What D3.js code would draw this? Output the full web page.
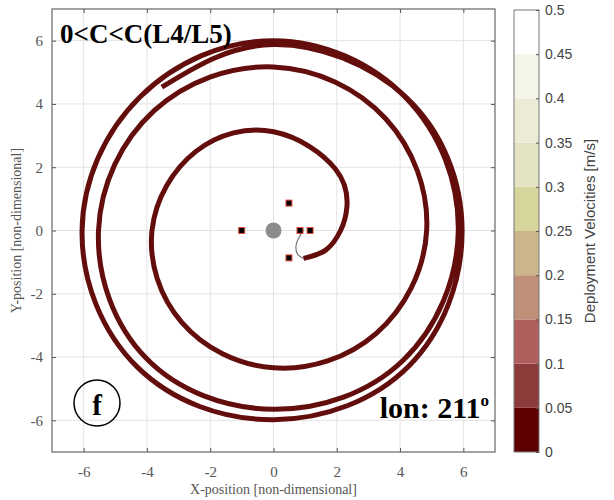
<!DOCTYPE html>
<html>
<head>
<meta charset="utf-8">
<script src="https://cdn.jsdelivr.net/npm/d3@7"></script>
<style>
  body { margin: 0; background: #fff; }
  svg { display: block; }
</style>
</head>
<body>
<div id="chart"></div>
<script>
/// DATA ///
const tickVals = [-6, -4, -2, 0, 2, 4, 6];

// velocity bins of the colorbar [m/s]
const velBins = [0, 0.05, 0.1, 0.15, 0.2, 0.25, 0.3, 0.35, 0.4, 0.45, 0.5];
const velColors = ["#5c0000", "#8e3b3b", "#b05f5f", "#c08f77", "#cbb68a",
  "#d6d59b", "#e3e3c3", "#ebebd6", "#f4f4e8", "#ffffff"];
const trajVelocity = 0.02;

// Lagrange points L1..L5
const lagrangeX = [0.837, 1.156, -1.005, 0.488, 0.488];
const lagrangeY = [0, 0, 0, 0.866, -0.866];

// thin gray leg from L1/L2 to the start of the spiral
const transfer = [[0.96, 0.03], [0.8, -0.23], [0.71, -0.49], [0.77, -0.76], [0.98, -0.89]];

// deployed trajectory
const trajectory = [
  [0.95, -0.88], [1.65, -0.62], [2.12, 0.0], [2.32, 0.75], [1.95, 1.95],
  [0, 3.12], [-2.45, 2.5], [-3.84, 0], [-2.9, -2.9],
  [0, -4.34], [3.25, -3.25], [4.84, 0], [3.54, 3.54],
  [0, 5.17], [-3.78, 3.78], [-5.53, 0], [-4.03, -4.03],
  [0, -5.65], [4.1, -4.1], [5.84, 0], [4.19, 4.19],
  [0, 6.0], [-4.22, 4.22], [-6.05, 0], [-4.31, -4.31],
  [0, -5.98], [4.28, -4.28], [5.96, 0], [4.2, 4.2],
  [0, 5.88], [-3.53, 4.53]
];

/// SVG ///
const W = 614, H = 500;
let margin = { top: 9, left: 52 },
  plotSize = 443;

let svg = d3.select("#chart").append("svg").attr("width", W).attr("height", H);

let x = d3.scaleLinear().domain([-7, 7]).range([margin.left, margin.left + plotSize]);
let y = d3.scaleLinear().domain([-7, 7]).range([margin.top + plotSize, margin.top]);

const serif = "'Liberation Serif', 'Times New Roman', serif";
const sans = "'Liberation Sans', Arial, sans-serif";

// grid
let grid = svg.append("g");
grid.selectAll(".gx").data(tickVals).enter().append("line")
  .attr("x1", d => x(d)).attr("x2", d => x(d))
  .attr("y1", y(-7)).attr("y2", y(7))
  .style("stroke", "#e3e3e3").style("stroke-width", 1);
grid.selectAll(".gy").data(tickVals).enter().append("line")
  .attr("x1", x(-7)).attr("x2", x(7))
  .attr("y1", d => y(d)).attr("y2", d => y(d))
  .style("stroke", "#e3e3e3").style("stroke-width", 1);

// trajectory
let line = d3.line().x(d => x(d[0])).y(d => y(d[1])).curve(d3.curveNatural);
let colorScale = d3.scaleThreshold().domain(velBins.slice(1, -1)).range(velColors);

svg.append("path")
  .datum(transfer)
  .attr("d", line)
  .style("fill", "none").style("stroke", "#777").style("stroke-width", 1.2);

svg.append("path")
  .datum(trajectory)
  .attr("d", line)
  .style("fill", "none")
  .style("stroke", colorScale(trajVelocity))
  .style("stroke-width", 5)
  .style("stroke-opacity", 0.95);

// primary body
svg.append("circle").attr("cx", x(0)).attr("cy", y(0)).attr("r", 8).style("fill", "#8c8c8c");

// Lagrange points
svg.selectAll(".lp").data(d3.range(lagrangeX.length)).enter().append("rect")
  .attr("x", i => x(lagrangeX[i]) - 3).attr("y", i => y(lagrangeY[i]) - 3)
  .attr("width", 6).attr("height", 6)
  .style("fill", "#000").style("stroke", "#e8503a").style("stroke-width", 1);

// axes (ticks pointing inward on all sides)
let fmt = d => String(d);
let axB = svg.append("g").attr("transform", `translate(0,${y(-7)})`)
  .call(d3.axisBottom(x).tickValues(tickVals).tickSizeInner(-4).tickSizeOuter(0).tickPadding(14).tickFormat(fmt));
let axT = svg.append("g").attr("transform", `translate(0,${y(7)})`)
  .call(d3.axisTop(x).tickValues(tickVals).tickSizeInner(-4).tickSizeOuter(0).tickFormat(""));
let axL = svg.append("g").attr("transform", `translate(${x(-7)},0)`)
  .call(d3.axisLeft(y).tickValues(tickVals).tickSizeInner(-4).tickSizeOuter(0).tickPadding(9).tickFormat(fmt));
let axR = svg.append("g").attr("transform", `translate(${x(7)},0)`)
  .call(d3.axisRight(y).tickValues(tickVals).tickSizeInner(-4).tickSizeOuter(0).tickFormat(""));

[axB, axT, axL, axR].forEach(a => {
  a.select(".domain").remove();
  a.selectAll(".tick line").style("stroke", "#555");
  a.selectAll("text").style("font-family", serif).style("font-size", "15px").style("fill", "#555");
});

svg.append("rect")
  .attr("x", x(-7)).attr("y", y(7)).attr("width", plotSize).attr("height", plotSize)
  .style("fill", "none").style("stroke", "#666").style("stroke-width", 1.2);

// axis titles
svg.append("text").attr("x", x(0)).attr("y", 494).attr("text-anchor", "middle")
  .style("font-family", serif).style("font-size", "14px").style("fill", "#555")
  .text("X-position [non-dimensional]");
svg.append("text").attr("transform", `translate(21,${y(0)}) rotate(-90)`).attr("text-anchor", "middle")
  .style("font-family", serif).style("font-size", "14px").style("fill", "#555")
  .text("Y-position [non-dimensional]");

// annotations
svg.append("text").attr("x", 60).attr("y", 43)
  .style("font-family", serif).style("font-size", "27px").style("font-weight", "bold")
  .text("0<C<C(L4/L5)");

svg.append("circle").attr("cx", 97).attr("cy", 403).attr("r", 23)
  .style("fill", "none").style("stroke", "#000").style("stroke-width", 1.5);
svg.append("text").attr("x", 97).attr("y", 415).attr("text-anchor", "middle")
  .style("font-family", serif).style("font-size", "29px").style("font-weight", "bold")
  .text("f");

let lon = svg.append("text").attr("x", 489).attr("y", 418).attr("text-anchor", "end")
  .style("font-family", serif).style("font-size", "30px").style("font-weight", "bold");
lon.append("tspan").text("lon: 211");
lon.append("tspan").attr("dy", -12).style("font-size", "17px").text("o");

/// COLORBAR ///
let cbX = 514, cbW = 25;
let yc = d3.scaleLinear().domain([0, 0.5]).range([452, 10]);

let cb = svg.append("g");
cb.selectAll("rect").data(velColors).enter().append("rect")
  .attr("x", cbX).attr("width", cbW)
  .attr("y", (d, i) => yc(velBins[i + 1]))
  .attr("height", (d, i) => yc(velBins[i]) - yc(velBins[i + 1]))
  .style("fill", d => d);
cb.append("rect").attr("x", cbX).attr("y", yc(0.5)).attr("width", cbW).attr("height", yc(0) - yc(0.5))
  .style("fill", "none").style("stroke", "#777").style("stroke-width", 1);

let cbAxis = svg.append("g").attr("transform", `translate(${cbX + cbW},0)`)
  .call(d3.axisRight(yc).tickValues(velBins).tickSizeInner(-3).tickSizeOuter(0).tickPadding(6)
    .tickFormat(d => String(+d.toFixed(2))));
cbAxis.select(".domain").remove();
cbAxis.selectAll(".tick line").style("stroke", "#555");
cbAxis.selectAll("text").style("font-family", sans).style("font-size", "14px").style("fill", "#444");

svg.append("text").attr("transform", `translate(595,${yc(0.25)}) rotate(-90)`).attr("text-anchor", "middle")
  .style("font-family", sans).style("font-size", "15px").style("fill", "#444")
  .text("Deployment Velocities [m/s]");
</script>
</body>
</html>
